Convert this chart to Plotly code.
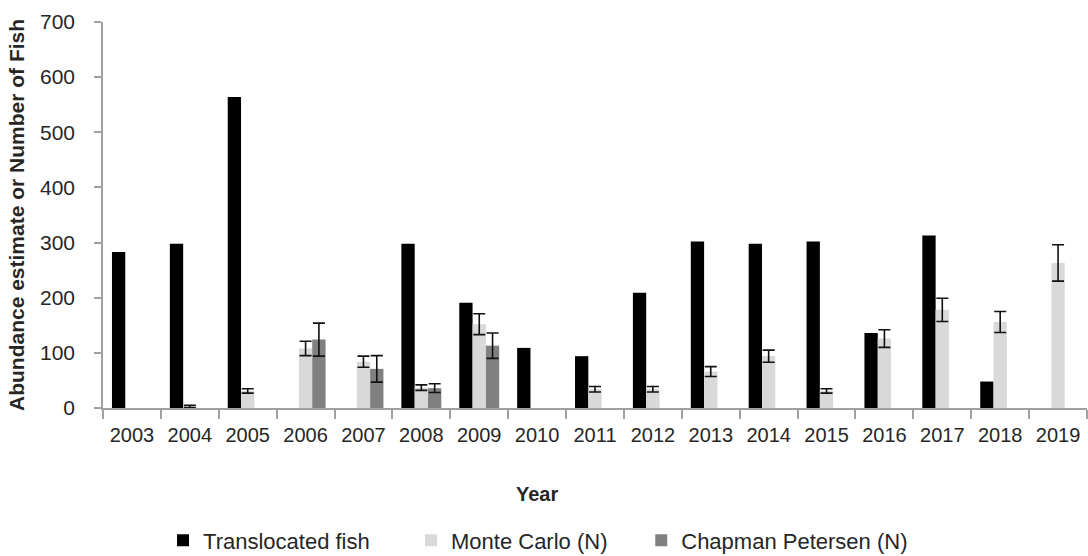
import plotly.graph_objects as go

years = [str(y) for y in range(2003, 2020)]

translocated = [283, 298, 564, None, None, 298, 191, 109, 94, 209, 302, 298, 302, 136, 313, 48, None]

monte_carlo = [None, 3, 31, 108, 84, 37, 152, None, 34, 34, 66, 94, 31, 126, 178, 156, 263]
monte_carlo_err = [0, 2, 4, 13, 10, 5, 19, 0, 5, 5, 9, 11, 4, 16, 21, 19, 33]

chapman = [None, None, None, 124, 71, 36, 113, None, None, None, None, None, None, None, None, None, None]
chapman_err = [0, 0, 0, 30, 24, 8, 23, 0, 0, 0, 0, 0, 0, 0, 0, 0, 0]

FONT = "Liberation Sans, Arial, sans-serif"
AXIS_GRAY = "#a0a0a0"
TEXT = "#262626"

err_style = dict(type="data", visible=True, color="#111111", thickness=1.6, width=6)

fig = go.Figure()
fig.add_trace(go.Bar(x=years, y=translocated, name="Translocated fish", legend="legend",
                     marker=dict(color="#000000", line=dict(width=0))))
fig.add_trace(go.Bar(x=years, y=monte_carlo, name="Monte Carlo (N)", legend="legend2",
                     marker=dict(color="#d9d9d9", line=dict(width=0)),
                     error_y=dict(array=monte_carlo_err, **err_style)))
fig.add_trace(go.Bar(x=years, y=chapman, name="Chapman Petersen (N)", legend="legend3",
                     marker=dict(color="#808080", line=dict(width=0)),
                     error_y=dict(array=chapman_err, **err_style)))

leg_common = dict(orientation="h", xanchor="left", y=-0.343, yanchor="middle",
                  font=dict(family=FONT, size=22, color=TEXT),
                  bgcolor="rgba(0,0,0,0)", itemclick=False, itemdoubleclick=False)

fig.update_layout(
    width=1088, height=556,
    margin=dict(l=103, r=1, t=22, b=148, autoexpand=False),
    paper_bgcolor="white", plot_bgcolor="white",
    barmode="group", bargap=0.31, bargroupgap=0,
    font=dict(family=FONT, color=TEXT, size=20),
    showlegend=True,
    legend=dict(x=0.061, **leg_common),
    legend2=dict(x=0.313, **leg_common),
    legend3=dict(x=0.547, **leg_common),
    xaxis=dict(type="category", showline=True, linecolor=AXIS_GRAY, linewidth=1.5,
               ticks="outside", tickson="boundaries", ticklen=9, tickcolor=AXIS_GRAY,
               tickwidth=1.5, tickfont=dict(family=FONT, size=20, color=TEXT),
               ticklabelstandoff=8, showgrid=False, zeroline=False, fixedrange=True),
    yaxis=dict(range=[0, 700], dtick=100, showline=True, linecolor=AXIS_GRAY, linewidth=1.5,
               ticks="outside", ticklen=7, tickcolor=AXIS_GRAY, tickwidth=1.5,
               tickfont=dict(family=FONT, size=21, color=TEXT),
               ticklabelstandoff=15, showgrid=False, zeroline=False, fixedrange=True),
    annotations=[
        dict(text="<b>Abundance estimate or Number of Fish</b>", xref="paper", yref="paper",
             x=0, y=0.5, xshift=-87, xanchor="center", yanchor="middle", textangle=-90,
             showarrow=False, font=dict(family=FONT, size=21, color=TEXT)),
        dict(text="<b>Year</b>", xref="paper", yref="paper", x=0.441, y=-0.223,
             xanchor="center", yanchor="middle", showarrow=False,
             font=dict(family=FONT, size=20, color=TEXT)),
    ],
)

fig.write_html("out.html", config={"displayModeBar": False},
               post_script="document.body.style.margin='0';document.body.style.overflow='hidden';")
